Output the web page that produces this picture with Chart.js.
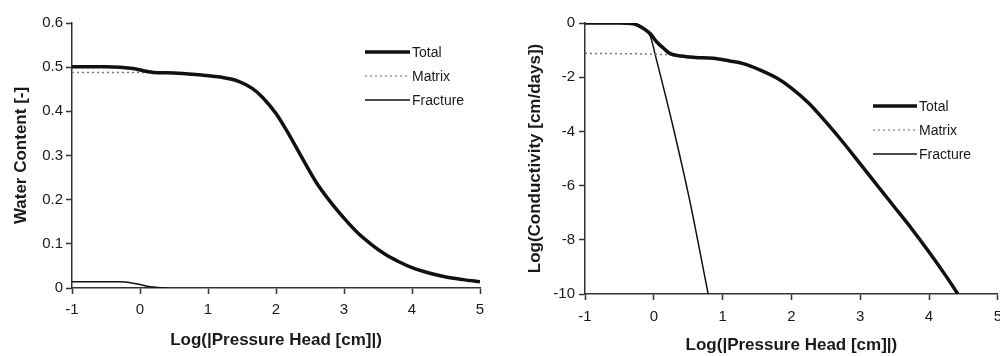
<!DOCTYPE html>
<html>
<head>
<meta charset="utf-8">
<script src="https://cdn.jsdelivr.net/npm/chart.js@4.4.1/dist/chart.umd.min.js"></script>
<style>
  html, body { margin: 0; padding: 0; background: #fff; overflow: hidden; }
  body { width: 1000px; height: 356px; position: relative; }
  .box { position: absolute; top: 0; }
</style>
</head>
<body>
<div class="box" style="left:0"><canvas id="graficaAgua" width="500" height="356"></canvas></div>
<div class="box" style="left:500px"><canvas id="graficaCond" width="510" height="356"></canvas></div>
<script>
// water content vs log|h|
const aguaLogH      = [-1, -0.5, -0.1, 0.05, 0.2, 0.5, 0.9, 1.2, 1.45, 1.65, 1.8, 2.0, 2.2, 2.4, 2.6, 2.8, 3.0, 3.2, 3.4, 3.6, 3.8, 4.0, 4.25, 4.5, 4.75, 5.0];
const aguaTotal     = [0.501, 0.501, 0.497, 0.492, 0.488, 0.487, 0.482, 0.477, 0.468, 0.452, 0.432, 0.395, 0.345, 0.29, 0.237, 0.195, 0.158, 0.125, 0.099, 0.077, 0.06, 0.046, 0.034, 0.025, 0.019, 0.014];
const aguaMatrizLogH = [-1, -0.5, 0, 0.2, 0.4];
const aguaMatriz     = [0.488, 0.488, 0.488, 0.487, 0.487];
const aguaFracLogH   = [-1, -0.3, -0.1, 0, 0.1, 0.2, 0.3, 0.4];
const aguaFractura   = [0.014, 0.014, 0.011, 0.008, 0.004, 0.002, 0.0005, 0];

// log conductivity vs log|h|
const condLogH      = [-1, -0.5, -0.3, -0.15, -0.05, 0.04, 0.15, 0.23, 0.4, 0.6, 0.86, 1.1, 1.3, 1.54, 1.8, 2.0, 2.25, 2.5, 2.75, 3.0, 3.25, 3.5, 3.75, 4.0, 4.25, 4.42];
const condTotal     = [0, 0, -0.03, -0.2, -0.4, -0.69, -0.95, -1.12, -1.22, -1.27, -1.3, -1.4, -1.5, -1.73, -2.05, -2.4, -2.95, -3.65, -4.4, -5.2, -6.0, -6.8, -7.6, -8.45, -9.35, -10];
const condMatrizLogH = [-1, -0.5, 0, 0.2, 0.3];
const condMatriz     = [-1.12, -1.13, -1.15, -1.17, -1.18];
const condFracLogH   = [-1, -0.3, -0.15, -0.05, 0.04, 0.28, 0.52, 0.79];
const condFractura   = [0, -0.03, -0.2, -0.5, -1.37, -3.83, -6.53, -10];

const etiquetas = ['Total', 'Matrix', 'Fracture'];

const fuente = '"Liberation Sans", Arial, sans-serif';
const tinta = '#1a1a1a';

function puntos(xs, ys) {
    return xs.map((x, i) => ({ x: x, y: ys[i] }));
}

// legend drawn as line samples next to the labels
const leyendaLineas = {
    id: 'leyendaLineas',
    afterDatasetsDraw(chart, args, opts) {
        const ctx = chart.ctx;
        ctx.save();
        chart.data.datasets.forEach((ds, i) => {
            const y = opts.y + i * opts.paso;
            ctx.beginPath();
            ctx.lineWidth = ds.borderWidth;
            ctx.strokeStyle = ds.legendColor || ds.borderColor;
            ctx.setLineDash(ds.borderDash || []);
            ctx.moveTo(opts.x, y);
            ctx.lineTo(opts.x + opts.largo, y);
            ctx.stroke();
            ctx.setLineDash([]);
            ctx.fillStyle = tinta;
            ctx.font = '14px ' + fuente;
            ctx.textAlign = 'left';
            ctx.textBaseline = 'middle';
            ctx.fillText(ds.label, opts.x + opts.largo + 2, y + 1);
        });
        ctx.restore();
    }
};

function crearGrafica(idCaja, series, ejeY, caja) {
    const ctx = document.getElementById(idCaja);
    new Chart(ctx, {
        type: 'line',
        data: {
            datasets: [{
                label: etiquetas[0],
                data: series[0],
                borderColor: '#111',
                borderWidth: 3.5
            }, {
                label: etiquetas[1],
                data: series[1],
                borderColor: '#777',
                legendColor: '#999',
                borderWidth: 1.5,
                borderDash: [2, 3]
            }, {
                label: etiquetas[2],
                data: series[2],
                borderColor: '#111',
                borderWidth: 1.5
            }]
        },
        options: {
            responsive: false,
            animation: false,
            devicePixelRatio: 1,
            elements: {
                point: { radius: 0 },
                line: { cubicInterpolationMode: 'monotone', fill: false }
            },
            layout: { padding: { left: 0, top: 23, right: caja.derecha, bottom: 0 } },
            plugins: {
                legend: { display: false },
                tooltip: { enabled: false },
                leyendaLineas: caja.leyenda
            },
            scales: {
                x: {
                    type: 'linear',
                    min: -1,
                    max: 5,
                    ticks: { stepSize: 1, color: tinta, padding: caja.padX, font: { family: fuente, size: 15 } },
                    grid: { drawOnChartArea: false, color: '#333', tickLength: 6, tickWidth: 1.5 },
                    border: { color: '#333', width: 1.5 },
                    title: {
                        display: true,
                        text: 'Log(|Pressure Head [cm]|)',
                        color: tinta,
                        font: { family: fuente, size: 17, weight: 'bold' },
                        padding: { top: 0, bottom: caja.tituloX }
                    },
                    afterFit: (s) => { s.height = caja.altoX; }
                },
                y: {
                    min: ejeY.min,
                    max: ejeY.max,
                    ticks: {
                        stepSize: ejeY.paso,
                        color: tinta,
                        padding: caja.padY,
                        font: { family: fuente, size: 15 },
                        callback: ejeY.formato
                    },
                    grid: { drawOnChartArea: false, color: '#333', tickLength: 6, tickWidth: 1.5 },
                    border: { color: '#333', width: 1.5 },
                    title: {
                        display: true,
                        text: ejeY.titulo,
                        color: tinta,
                        font: { family: fuente, size: 17, weight: 'bold' },
                        padding: { top: caja.tituloY, bottom: 0 }
                    },
                    afterFit: (s) => { s.width = caja.anchoY; }
                }
            }
        },
        plugins: [leyendaLineas]
    });
}

crearGrafica('graficaAgua',
    [puntos(aguaLogH, aguaTotal), puntos(aguaMatrizLogH, aguaMatriz), puntos(aguaFracLogH, aguaFractura)],
    { min: 0, max: 0.6, paso: 0.1, titulo: 'Water Content [-]', formato: v => v === 0 ? '0' : v.toFixed(1) },
    { derecha: 20, anchoY: 72, altoX: 68, padX: 7, padY: 3, tituloX: 5, tituloY: 11,
      leyenda: { x: 365, y: 52, paso: 24, largo: 45 } });

crearGrafica('graficaCond',
    [puntos(condLogH, condTotal), puntos(condMatrizLogH, condMatriz), puntos(condFracLogH, condFractura)],
    { min: -10, max: 0, paso: 2, titulo: 'Log(Conductivity [cm/days])', formato: v => String(v) },
    { derecha: 12, anchoY: 85, altoX: 62, padX: 8, padY: 4, tituloX: 0, tituloY: 25,
      leyenda: { x: 373, y: 106, paso: 24, largo: 44 } });
</script>
</body>
</html>
